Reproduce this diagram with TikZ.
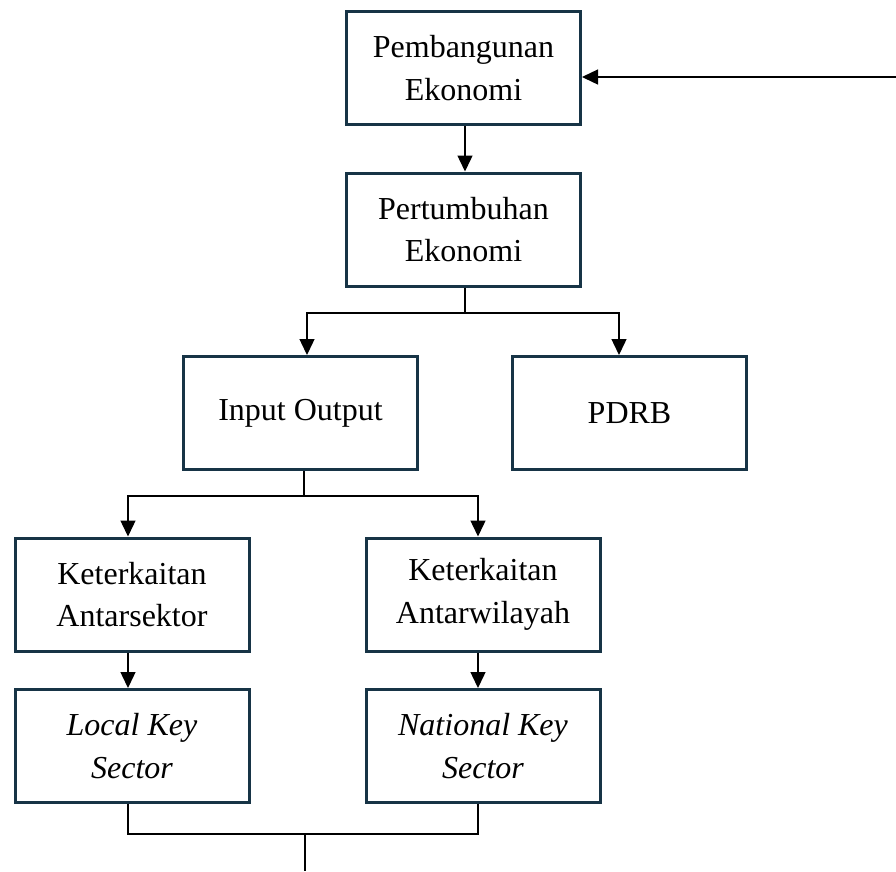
\documentclass[tikz,border=0pt]{standalone}
\usepackage{fontspec}
\setmainfont{Liberation Serif}
\usetikzlibrary{arrows.meta}
\definecolor{boxline}{HTML}{173446}
\begin{document}
\begin{tikzpicture}[x=1pt,y=-1pt,
  box/.style={draw=boxline, line width=3pt, rectangle, minimum width=234pt, minimum height=113pt,
    align=center, inner sep=0pt, font=\fontsize{32}{42.5}\selectfont},
  conn/.style={draw=black, line width=1.4pt},
  arr/.style={conn, -{Triangle[width=15pt,length=16pt]}}]
\useasboundingbox (0,0) rectangle (896,871);
\node[box] (b1) at (463.5,68) {Pembangunan\\Ekonomi};
\node[box] (b2) at (463.5,229.5) {Pertumbuhan\\Ekonomi};
\node[box] (b3) at (300.5,413) {Input Output};
\node[box] (b4) at (629.5,413) {PDRB};
\node[box] (b5) at (132,594.5) {Keterkaitan\\Antarsektor};
\node[box] (b6) at (483,594.5) {Keterkaitan\\Antarwilayah};
\node[box] (b7) at (132,746) {\itshape Local Key\\\itshape Sector};
\node[box] (b8) at (483,746) {\itshape National Key\\\itshape Sector};
\coordinate (ext) at (896,77);
\coordinate (j1) at (463.5,313);
\coordinate (j2) at (304,496);
\coordinate (j3) at (305,834);
\coordinate (endp) at (305,871);
% feedback arrow
\draw[arr] (ext) -- (ext -| b1.east);
% b1 -> b2
\draw[arr] ([xshift=1.5pt]b1.south) -- ([xshift=1.5pt]b2.north);
% b2 -> b3, b4
\draw[conn] ([xshift=1.5pt]b2.south) -- ([xshift=1.5pt]j1);
\draw[arr] ([xshift=1.5pt]j1) -| ([xshift=6.5pt]b3.north);
\draw[arr] ([xshift=1.5pt]j1) -| ([xshift=-10.5pt]b4.north);
% b3 -> b5, b6
\draw[conn] ([xshift=3.5pt]b3.south) -- (j2);
\draw[arr] (j2) -| ([xshift=-4pt]b5.north);
\draw[arr] (j2) -| ([xshift=-5pt]b6.north);
% b5 -> b7, b6 -> b8
\draw[arr] ([xshift=-4pt]b5.south) -- ([xshift=-4pt]b7.north);
\draw[arr] ([xshift=-5pt]b6.south) -- ([xshift=-5pt]b8.north);
% b7, b8 -> bottom
\draw[conn] ([xshift=-4pt]b7.south) |- (j3);
\draw[conn] ([xshift=-5pt]b8.south) |- (j3);
\draw[conn] (j3) -- (endp);
\end{tikzpicture}
\end{document}
